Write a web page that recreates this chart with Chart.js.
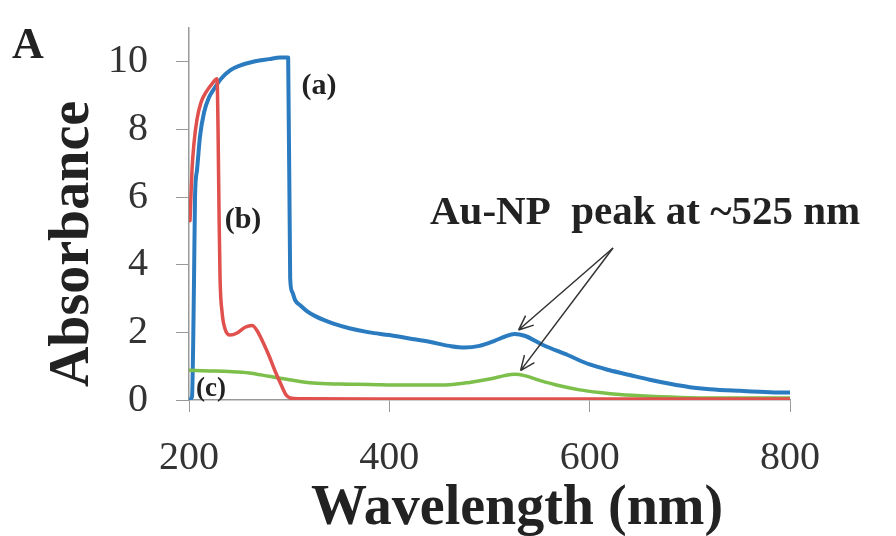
<!DOCTYPE html>
<html>
<head>
<meta charset="utf-8">
<script src="https://cdn.jsdelivr.net/npm/chart.js@4.4.1/dist/chart.umd.min.js"></script>
<style>
  body { margin: 0; background: #fff; }
  #wrap { width: 896px; height: 536px; position: relative; }
</style>
</head>
<body>
<div id="wrap"><canvas id="uvChart"></canvas></div>
<script>
// UV-vis spectra
const wlA = [200, 203, 205, 206, 208, 211, 215, 220, 225, 232, 241, 250, 264, 280, 291, 299, 301, 303, 306, 311, 318, 326, 335, 345, 360, 380, 400, 420, 440, 460, 475, 490, 505, 515, 525, 535, 554, 578, 600, 620, 640, 660, 680, 700, 720, 750, 780, 800];
const absA = [0, 0.1, 3.5, 6.0, 6.8, 7.8, 8.5, 8.95, 9.2, 9.5, 9.75, 9.88, 10.0, 10.08, 10.13, 10.13, 3.6, 3.2, 2.95, 2.8, 2.62, 2.48, 2.36, 2.25, 2.12, 2.0, 1.92, 1.82, 1.72, 1.6, 1.55, 1.6, 1.75, 1.87, 1.95, 1.9, 1.62, 1.33, 1.05, 0.88, 0.74, 0.6, 0.48, 0.38, 0.32, 0.27, 0.23, 0.22];

const wlB = [201, 203, 205, 208, 212, 218, 223, 228, 229, 230, 231, 233, 236, 241, 248, 256, 263, 268, 274, 280, 286, 292, 297, 301, 310, 400, 500, 600, 700, 800];
const absB = [5.3, 6.8, 7.6, 8.3, 8.8, 9.15, 9.35, 9.5, 8.0, 5.5, 3.6, 2.6, 2.1, 1.92, 1.98, 2.15, 2.2, 2.05, 1.7, 1.3, 0.85, 0.45, 0.15, 0.06, 0.04, 0.03, 0.03, 0.03, 0.03, 0.03];

const wlC = [200, 220, 240, 260, 280, 300, 324, 350, 380, 410, 440, 460, 480, 500, 515, 525, 535, 550, 570, 590, 610, 630, 660, 700, 750, 800];
const absC = [0.88, 0.86, 0.84, 0.8, 0.7, 0.6, 0.5, 0.47, 0.46, 0.44, 0.44, 0.45, 0.52, 0.62, 0.72, 0.76, 0.72, 0.58, 0.42, 0.3, 0.22, 0.16, 0.11, 0.07, 0.06, 0.06];

const xTicks = [200, 400, 600, 800];
const yTicks = [0, 2, 4, 6, 8, 10];

function toPoints(xs, ys) {
  return xs.map((x, i) => ({ x: x, y: ys[i] }));
}

const serif = '"Liberation Serif", "Times New Roman", serif';

// labels, titles and arrows drawn on top
const figureText = {
  id: 'figureText',
  afterDraw(chart) {
    const ctx = chart.ctx;
    const xs = chart.scales.x;
    const ys = chart.scales.y;
    ctx.save();
    ctx.fillStyle = '#222';

    ctx.font = 'bold 44px ' + serif;
    ctx.textAlign = 'left';
    ctx.textBaseline = 'alphabetic';
    ctx.fillText('A', 12, 58);

    ctx.font = 'bold 30px ' + serif;
    ctx.textAlign = 'center';
    ctx.textBaseline = 'middle';
    ctx.fillText('(a)', 319, 86);
    ctx.fillText('(b)', 243, 220);
    ctx.font = 'bold 27px ' + serif;
    ctx.fillText('(c)', 211, 389);

    ctx.font = 'bold 41px ' + serif;
    ctx.textAlign = 'left';
    ctx.textBaseline = 'alphabetic';
    ctx.fillText('Au-NP  peak at ~525 nm', 430, 224);

    // axis titles
    ctx.font = 'bold 56px ' + serif;
    ctx.textAlign = 'center';
    ctx.fillText('Wavelength (nm)', 517, 524);
    ctx.save();
    ctx.translate(88, 244);
    ctx.rotate(-Math.PI / 2);
    ctx.fillText('Absorbance', 0, 0);
    ctx.restore();

    // arrows to the plasmon peaks
    const sx = 613, sy = 248;
    const tips = [[529, 1.95], [531, 0.75]];
    ctx.strokeStyle = '#333';
    ctx.lineWidth = 1.5;
    tips.forEach(t => {
      const tx = xs.getPixelForValue(t[0]);
      const ty = ys.getPixelForValue(t[1]) - 4;
      ctx.beginPath();
      ctx.moveTo(sx, sy);
      ctx.lineTo(tx, ty);
      const ang = Math.atan2(ty - sy, tx - sx);
      const len = 16;
      ctx.moveTo(tx, ty);
      ctx.lineTo(tx - len * Math.cos(ang - 0.4), ty - len * Math.sin(ang - 0.4));
      ctx.moveTo(tx, ty);
      ctx.lineTo(tx - len * Math.cos(ang + 0.4), ty - len * Math.sin(ang + 0.4));
      ctx.stroke();
    });
    ctx.restore();
  }
};

const ctx = document.getElementById('uvChart');
new Chart(ctx, {
  type: 'line',
  data: {
    datasets: [
      {
        label: '(b)',
        data: toPoints(wlB, absB),
        borderColor: '#e0504c',
        borderWidth: 3.5
      },
      {
        label: '(c)',
        data: toPoints(wlC, absC),
        borderColor: '#7cbf4a',
        borderWidth: 3.5
      },
      {
        label: '(a)',
        data: toPoints(wlA, absA),
        borderColor: '#2a7bc0',
        borderWidth: 4
      }
    ]
  },
  options: {
    responsive: true,
    maintainAspectRatio: false,
    animation: false,
    parsing: false,
    elements: {
      point: { radius: 0 },
      line: { tension: 0.2, cubicInterpolationMode: 'monotone', borderCapStyle: 'round', borderJoinStyle: 'round' }
    },
    layout: { padding: { top: 28, right: 106, left: 0, bottom: 0 } },
    plugins: {
      legend: { display: false },
      tooltip: { enabled: false }
    },
    scales: {
      x: {
        type: 'linear',
        min: 200,
        max: 800,
        afterFit: s => { s.height = 136; s.paddingLeft = 0; s.paddingRight = 0; },
        afterBuildTicks: s => { s.ticks = xTicks.map(v => ({ value: v })); },
        grid: { drawOnChartArea: false, drawTicks: true, tickLength: 12, color: '#999' },
        border: { color: '#999', width: 1.5 },
        ticks: {
          color: '#333',
          padding: 22,
          font: { family: serif, size: 40 }
        }
      },
      y: {
        type: 'linear',
        min: 0,
        max: 11,
        afterFit: s => { s.width = 189; s.paddingTop = 0; s.paddingBottom = 0; },
        afterBuildTicks: s => { s.ticks = yTicks.map(v => ({ value: v })); },
        grid: { drawOnChartArea: false, drawTicks: true, tickLength: 13, color: '#999' },
        border: { color: '#999', width: 1.5 },
        ticks: {
          color: '#333',
          padding: 28,
          font: { family: serif, size: 40 }
        }
      }
    }
  },
  plugins: [figureText]
});
</script>
</body>
</html>
